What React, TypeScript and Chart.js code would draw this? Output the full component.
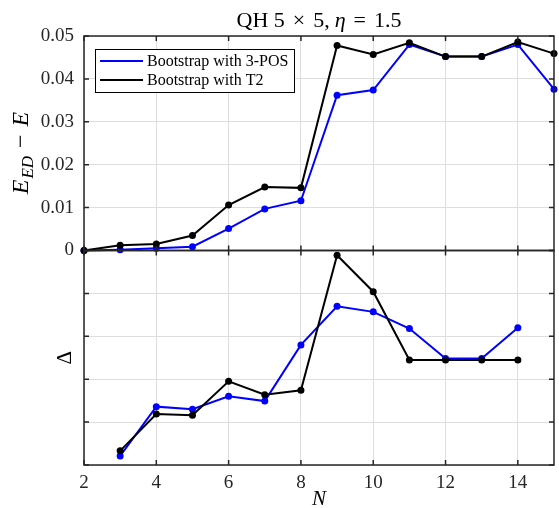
import React, { useEffect, useRef } from "react";
import { Chart, registerables } from "chart.js";

Chart.register(...registerables);

const nTop = [2, 3, 4, 5, 6, 7, 8, 9, 10, 11, 12, 13, 14, 15];
const topPos = [0, 0.0002, 0.0005, 0.0009, 0.0051, 0.0097, 0.0116, 0.0362, 0.0374, 0.048, 0.0452, 0.0452, 0.048, 0.0376];
const topT2 = [0, 0.0012, 0.0015, 0.0035, 0.0106, 0.0148, 0.0146, 0.0478, 0.0457, 0.0484, 0.0452, 0.0452, 0.0486, 0.0459];

const nBot = [3, 4, 5, 6, 7, 8, 9, 10, 11, 12, 13, 14];
const botPos = [0.21, 1.36, 1.3, 1.6, 1.49, 2.8, 3.7, 3.57, 3.18, 2.48, 2.48, 3.2];
const botT2 = [0.33, 1.19, 1.16, 1.95, 1.64, 1.74, 4.89, 4.04, 2.45, 2.45, 2.45, 2.45];

const topTicks = [0, 0.01, 0.02, 0.03, 0.04, 0.05];
const xTickLabels = [2, 4, 6, 8, 10, 12, 14];

const legendLabels = ["Bootstrap with 3-POS", "Bootstrap with T2"];
const colors = ["#0000ff", "#000000"];

const SERIF = "'Liberation Serif', 'DejaVu Serif', serif";
const AXIS = "#262626";

// [text, font style, extra gap after]
const titleParts: [string, string, number][] = [
  ["QH 5", "", 8],
  ["×", "", 8],
  ["5,", "", 5],
  ["η", "italic ", 8],
  ["=", "", 8],
  ["1.5", "", 0],
];

const decor = {
  id: "decor",
  afterDatasetsDraw(chart: any) {
    const ctx = chart.ctx as CanvasRenderingContext2D;
    const ca = chart.chartArea;
    const x = chart.scales.x;
    const yT = chart.scales.yTop;
    const yB = chart.scales.yBot;
    ctx.save();
    // boxes + inward ticks
    ctx.strokeStyle = AXIS;
    ctx.lineWidth = 1.5;
    for (const s of [yT, yB]) {
      ctx.strokeRect(ca.left, s.top, ca.right - ca.left, s.bottom - s.top);
      ctx.beginPath();
      for (const t of s.ticks) {
        const py = s.getPixelForValue(t.value);
        ctx.moveTo(ca.left, py);
        ctx.lineTo(ca.left + 5, py);
        ctx.moveTo(ca.right, py);
        ctx.lineTo(ca.right - 5, py);
      }
      for (const t of x.ticks) {
        const px = x.getPixelForValue(t.value);
        ctx.moveTo(px, s.top);
        ctx.lineTo(px, s.top + 5);
        ctx.moveTo(px, s.bottom);
        ctx.lineTo(px, s.bottom - 5);
      }
      ctx.stroke();
    }
    // legend
    const lx = 95, ly = 49, lw = 199, lh = 43;
    ctx.fillStyle = "#ffffff";
    ctx.fillRect(lx, ly, lw, lh);
    ctx.lineWidth = 1;
    ctx.strokeStyle = "#000000";
    ctx.strokeRect(lx + 0.5, ly + 0.5, lw, lh);
    ctx.font = `16px ${SERIF}`;
    ctx.textBaseline = "middle";
    ctx.textAlign = "left";
    legendLabels.forEach((lab, i) => {
      const yy = 61 + i * 19;
      ctx.strokeStyle = colors[i];
      ctx.lineWidth = 2;
      ctx.beginPath();
      ctx.moveTo(100, yy);
      ctx.lineTo(143, yy);
      ctx.stroke();
      ctx.fillStyle = "#000000";
      ctx.fillText(lab, 147, yy + 1);
    });
    // title
    ctx.textBaseline = "alphabetic";
    let total = 0;
    for (const [t, st, g] of titleParts) {
      ctx.font = `${st}22px ${SERIF}`;
      total += ctx.measureText(t).width + g;
    }
    let cx = (ca.left + ca.right) / 2 - total / 2;
    ctx.fillStyle = "#000000";
    for (const [t, st, g] of titleParts) {
      ctx.font = `${st}22px ${SERIF}`;
      ctx.fillText(t, cx, 27);
      cx += ctx.measureText(t).width + g;
    }
    ctx.textBaseline = "middle";
    // x title
    ctx.font = `italic 21px ${SERIF}`;
    ctx.textAlign = "center";
    ctx.fillText("N", (ca.left + ca.right) / 2, 499);
    // y title top
    ctx.save();
    ctx.translate(20, 153);
    ctx.rotate(-Math.PI / 2);
    ctx.textBaseline = "alphabetic";
    const yparts: [string, string, number, number][] = [
      ["E", `italic 24px ${SERIF}`, 0, 1],
      ["ED", `italic 17px ${SERIF}`, 5, 8],
      ["−", `24px ${SERIF}`, 0, 8],
      ["E", `italic 24px ${SERIF}`, 0, 0],
    ];
    let tw = 0;
    for (const [t, f, , g] of yparts) {
      ctx.font = f;
      tw += ctx.measureText(t).width + g;
    }
    let px = -tw / 2;
    ctx.textAlign = "left";
    for (const [t, f, dy, g] of yparts) {
      ctx.font = f;
      ctx.fillText(t, px, 8 + dy);
      px += ctx.measureText(t).width + g;
    }
    ctx.restore();
    // y title bottom
    ctx.save();
    ctx.translate(65, (yB.top + yB.bottom) / 2);
    ctx.rotate(-Math.PI / 2);
    ctx.font = `21px ${SERIF}`;
    ctx.textAlign = "center";
    ctx.fillText("Δ", 0, 0);
    ctx.restore();
    ctx.restore();
  },
};

export default function App() {
  const ref = useRef<HTMLCanvasElement>(null);
  useEffect(() => {
    document.body.style.margin = "0";
    const mk = (xs: number[], ys: number[]) => xs.map((v, i) => ({ x: v, y: ys[i] }));
    const ds = (label: string, data: any, color: string, axis: string) => ({
      label,
      data,
      borderColor: color,
      backgroundColor: color,
      borderWidth: 2,
      pointRadius: 3.5,
      pointBorderWidth: 0,
      pointHoverRadius: 3.5,
      yAxisID: axis,
      clip: false as any,
      tension: 0,
    });
    const chart = new Chart(ref.current!, {
      type: "line",
      data: {
        datasets: [
          ds(legendLabels[1], mk(nTop, topT2), colors[1], "yTop"),
          ds(legendLabels[0], mk(nTop, topPos), colors[0], "yTop"),
          ds(legendLabels[1] + " Δ", mk(nBot, botT2), colors[1], "yBot"),
          ds(legendLabels[0] + " Δ", mk(nBot, botPos), colors[0], "yBot"),
        ],
      },
      options: {
        animation: false,
        responsive: false,
        events: [],
        layout: { padding: { left: 0, right: 5, top: 36, bottom: 0 } },
        plugins: { legend: { display: false }, tooltip: { enabled: false }, title: { display: false } },
        scales: {
          x: {
            type: "linear",
            min: 2,
            max: 15,
            afterBuildTicks: (s: any) => {
              s.ticks = xTickLabels.map((v) => ({ value: v }));
            },
            ticks: {
              font: { family: SERIF, size: 19 },
              color: AXIS,
              padding: 7,
              maxRotation: 0,
              autoSkip: false,
            },
            grid: { color: "#dedede", drawTicks: false, lineWidth: 1 },
            border: { display: false },
            afterFit: (s: any) => {
              s.height = 43;
            },
          },
          yBot: {
            type: "linear",
            position: "left",
            stack: "p",
            stackWeight: 1,
            min: 0,
            max: 5,
            ticks: { display: false, stepSize: 1, autoSkip: false },
            grid: { color: "#dedede", drawTicks: false },
            border: { display: false },
            afterFit: (s: any) => {
              s.width = 84;
            },
          },
          yTop: {
            type: "linear",
            position: "left",
            stack: "p",
            stackWeight: 1,
            min: 0,
            max: 0.05,
            afterBuildTicks: (s: any) => {
              s.ticks = topTicks.map((v) => ({ value: v }));
            },
            ticks: {
              font: { family: SERIF, size: 19 },
              color: AXIS,
              padding: 10,
              autoSkip: false,
              callback: (v: any) => (v === 0 ? "0" : Number(v).toFixed(2)),
            },
            grid: { color: "#dedede", drawTicks: false },
            border: { display: false },
            afterFit: (s: any) => {
              s.width = 84;
            },
          },
        },
      },
      plugins: [decor],
    });
    return () => chart.destroy();
  }, []);
  return <canvas ref={ref} width={559} height={508} style={{ display: "block" }} />;
}
